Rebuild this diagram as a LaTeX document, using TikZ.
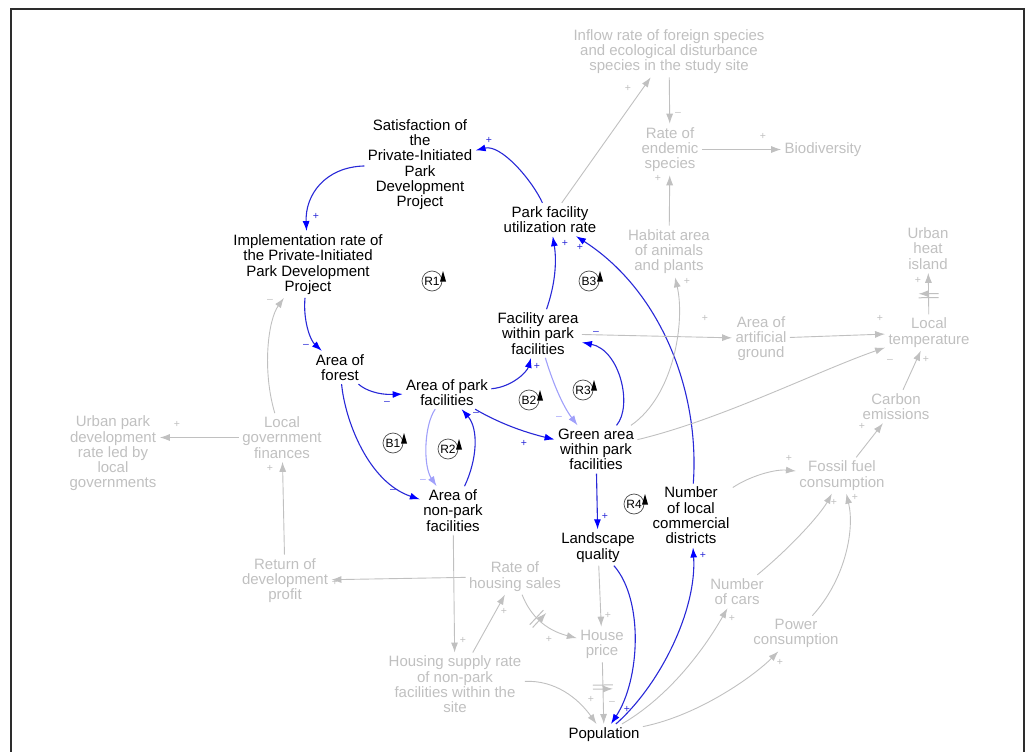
\documentclass[tikz,border=0pt]{standalone}
\usepackage{fontspec}
\setmainfont{Liberation Sans}
\usetikzlibrary{arrows.meta,decorations.markings}
\definecolor{gtext}{RGB}{192,192,192}
\definecolor{gline}{RGB}{192,192,192}
\definecolor{bline}{RGB}{40,40,215}
\definecolor{bhead}{RGB}{0,0,255}
\definecolor{lblue}{RGB}{160,160,250}
\definecolor{framec}{RGB}{45,45,45}
\newcommand\myloop[3]{\node[loopc] (#1) at (#2) {#3}; \fill (#1.center) ++(11,-10) -- ++(-3,10.5) -- ++(6,0) -- cycle;}
\begin{document}
\begin{tikzpicture}[x=1pt,y=-1pt,
 var/.style={align=center,font=\fontsize{15}{15.3}\selectfont,inner sep=1.5pt,outer sep=2pt,text=black,yshift=-1.5pt},
 gvar/.style={var,text=gtext},
 barr/.style={draw=bline,line width=1.1pt,-{Latex[length=10pt,width=7pt,color=bhead]}},
 garr/.style={draw=gline,line width=0.9pt,-{Latex[length=10pt,width=7pt]}},
 larr/.style={draw=lblue,line width=1.1pt,-{Latex[length=10pt,width=7pt]}},
 sgn/.style={font=\fontsize{10.5}{10.5}\selectfont,inner sep=0pt},
 bs/.style={sgn,text=bline},
 gs/.style={sgn,text=gline},
 ls/.style={sgn,text=lblue},
 loopc/.style={circle,draw=black!70,line width=0.7pt,minimum size=20pt,inner sep=0pt,font=\fontsize{12}{12}\selectfont},
 delay/.style={postaction={decorate},decoration={markings,mark=at position #1 with {\draw[gline,line width=1pt] (-2pt,-10pt) -- (-2pt,10pt) (2pt,-10pt) -- (2pt,10pt);}}},
]
\useasboundingbox (0,0) rectangle (1031,752);
\draw[framec,line width=1.4pt] (11,752) -- (11,9) -- (1024,9) -- (1024,752);

% nodes
\node[var] (sat) at (420,163) {Satisfaction of\\the\\Private-Initiated\\Park\\Development\\Project};
\node[var] (impl) at (308,263) {Implementation rate of\\the Private-Initiated\\Park Development\\Project};
\node[var] (pfu) at (550,218) {Park facility\\utilization rate};
\node[gvar] (inflow) at (669,50) {Inflow rate of foreign species\\and ecological disturbance\\species in the study site};
\node[gvar] (endemic) at (670,148) {Rate of\\endemic\\species};
\node[gvar] (bio) at (823,148) {Biodiversity};
\node[gvar] (habitat) at (669,250) {Habitat area\\of animals\\and plants};
\node[gvar] (uhi) at (928,247) {Urban\\heat\\island};
\node[gvar] (ltemp) at (929,331) {Local\\temperature};
\node[gvar] (artif) at (761,337) {Area of\\artificial\\ground};
\node[gvar] (carbon) at (896,405) {Carbon\\emissions};
\node[var] (facil) at (538,332) {Facility area\\within park\\facilities};
\node[var] (forest) at (340,366) {Area of\\forest};
\node[var] (park) at (447,391) {Area of park\\facilities};
\node[var] (green) at (596,448) {Green area\\within park\\facilities};
\node[gvar] (urban) at (113,452) {Urban park\\development\\rate led by\\local\\governments};
\node[gvar] (lgov) at (282,436) {Local\\government\\finances};
\node[var] (nonpark) at (453,509) {Area of\\non-park\\facilities};
\node[gvar] (fossil) at (842,474) {Fossil fuel\\consumption};
\node[var] (comm) at (691,514) {Number\\of local\\commercial\\districts};
\node[var] (land) at (598,546) {Landscape\\quality};
\node[gvar] (sales) at (515,575) {Rate of\\housing sales};
\node[gvar] (ret) at (285,579) {Return of\\development\\profit};
\node[gvar] (cars) at (737,590) {Number\\of cars};
\node[gvar] (house) at (602,643) {House\\price};
\node[gvar] (power) at (796,632) {Power\\consumption};
\node[gvar] (supply) at (455,683) {Housing supply rate\\of non-park\\facilities within the\\site};
\node[var] (pop) at (604,733) {Population};

% loop markers
\myloop{r1}{432,281}{R1}
\myloop{b3}{589,281}{B3}
\myloop{r3}{583,390}{R3}
\myloop{b2}{529,400}{B2}
\myloop{b1}{393,443}{B1}
\myloop{r2}{448,449}{R2}
\myloop{r4}{634,504}{R4}

% blue links
\draw[barr] (sat) .. controls (325,167) and (305,195) .. (impl);
\draw[barr] (pfu) .. controls (532,180) and (501,144) .. (sat);
\draw[barr] (impl) .. controls (303,320) and (310,340) .. (forest);
\draw[barr] (forest) .. controls (365,390) and (378,395) .. (park);
\draw[barr] (forest) .. controls (345,420) and (368,482) .. (nonpark);
\draw[barr] (park) .. controls (512,387) and (527,372) .. (facil);
\draw[barr] (park) .. controls (490,418) and (515,430) .. (green);
\draw[barr] (nonpark) .. controls (477,460) and (479,429) .. (park);
\draw[larr] (park) .. controls (424,425) and (423,466) .. (nonpark);
\draw[larr] (facil) .. controls (552,380) and (562,405) .. (green);
\draw[barr] (green) .. controls (633,406) and (620,350) .. (facil);
\draw[barr] (facil) .. controls (555,285) and (557,262) .. (pfu);
\draw[barr] (comm) .. controls (700,390) and (660,290) .. (pfu);
\draw[barr] (green) -- (land);
\draw[barr] (land) .. controls (644,600) and (640,680) .. (pop);
\draw[barr] (pop) .. controls (660,685) and (697,610) .. (comm);

% grey links
\draw[garr] (pfu) -- (inflow);
\draw[garr] (inflow) -- (endemic);
\draw[garr] (endemic) -- (bio);
\draw[garr] (habitat) -- (endemic);
\draw[garr] (green) .. controls (675,395) and (685,320) .. (habitat);
\draw[garr] (facil) -- (artif);
\draw[garr] (artif) -- (ltemp);
\draw[garr,delay=0.45] (ltemp) -- (uhi);
\draw[garr] (green) .. controls (720,420) and (820,370) .. (ltemp);
\draw[garr] ([xshift=7pt]carbon.north) -- (ltemp);
\draw[garr] (fossil) -- (carbon);
\draw[garr] (comm) .. controls (750,476) and (775,469) .. (fossil);
\draw[garr] (cars) .. controls (790,548) and (820,515) .. (fossil);
\draw[garr] (power) .. controls (845,580) and (855,530) .. (fossil);
\draw[garr] (pop) .. controls (680,690) and (715,630) .. (cars);
\draw[garr] (pop) .. controls (700,715) and (755,675) .. (power);
\draw[garr] (land) -- (house);
\draw[garr,delay=0.4] (house) -- (pop);
\draw[garr,delay=0.4] (sales) .. controls (530,615) and (545,630) .. (house);
\draw[garr] (supply) -- (sales);
\draw[garr] (supply) .. controls (555,680) and (578,698) .. (pop);
\draw[garr] (nonpark) -- (supply);
\draw[garr] (sales) -- (ret);
\draw[garr] (ret) -- (lgov);
\draw[garr] (lgov.west) -- (lgov.west -| urban.east);
\draw[garr] (lgov) .. controls (262,370) and (268,320) .. (impl);

% polarity signs
\node[bs] (s1) at (316,216) {+};
\node[bs] (s2) at (489,140) {+};
\node[bs] (s3) at (306,346) {–};
\node[bs] (s4) at (387,403) {–};
\node[bs] (s5) at (393,491) {–};
\node[bs] (s6) at (537,366) {+};
\node[bs] (s7) at (524,443) {+};
\node[bs] (s8) at (476,414) {–};
\node[bs] (s9) at (596,333) {–};
\node[bs] (s10) at (565,243) {+};
\node[bs] (s11) at (580,247) {+};
\node[bs] (s12) at (605,516) {+};
\node[bs] (s13) at (627,709) {+};
\node[bs] (s14) at (703,555) {+};
\node[ls] (s15) at (423,481) {–};
\node[ls] (s16) at (559,418) {–};
\node[gs] (g1) at (628,88) {+};
\node[gs] (g2) at (678,114) {–};
\node[gs] (g3) at (763,136) {+};
\node[gs] (g4) at (658,178) {+};
\node[gs] (g5) at (687,281) {+};
\node[gs] (g6) at (705,318) {+};
\node[gs] (g7) at (880,318) {+};
\node[gs] (g8) at (918,280) {+};
\node[gs] (g9) at (890,361) {–};
\node[gs] (g10) at (926,359) {+};
\node[gs] (g11) at (862,426) {+};
\node[gs] (g12) at (789,458) {+};
\node[gs] (g13) at (834,502) {+};
\node[gs] (g14) at (855,497) {+};
\node[gs] (g15) at (732,618) {+};
\node[gs] (g16) at (780,662) {+};
\node[gs] (g17) at (608,615) {+};
\node[gs] (g18) at (612,703) {–};
\node[gs] (g19) at (591,699) {+};
\node[gs] (g20) at (549,639) {+};
\node[gs] (g21) at (504,611) {+};
\node[gs] (g22) at (463,640) {+};
\node[gs] (g23) at (335,582) {+};
\node[gs] (g24) at (270,468) {+};
\node[gs] (g25) at (177,424) {+};
\node[gs] (g26) at (270,301) {–};
\end{tikzpicture}
\end{document}
